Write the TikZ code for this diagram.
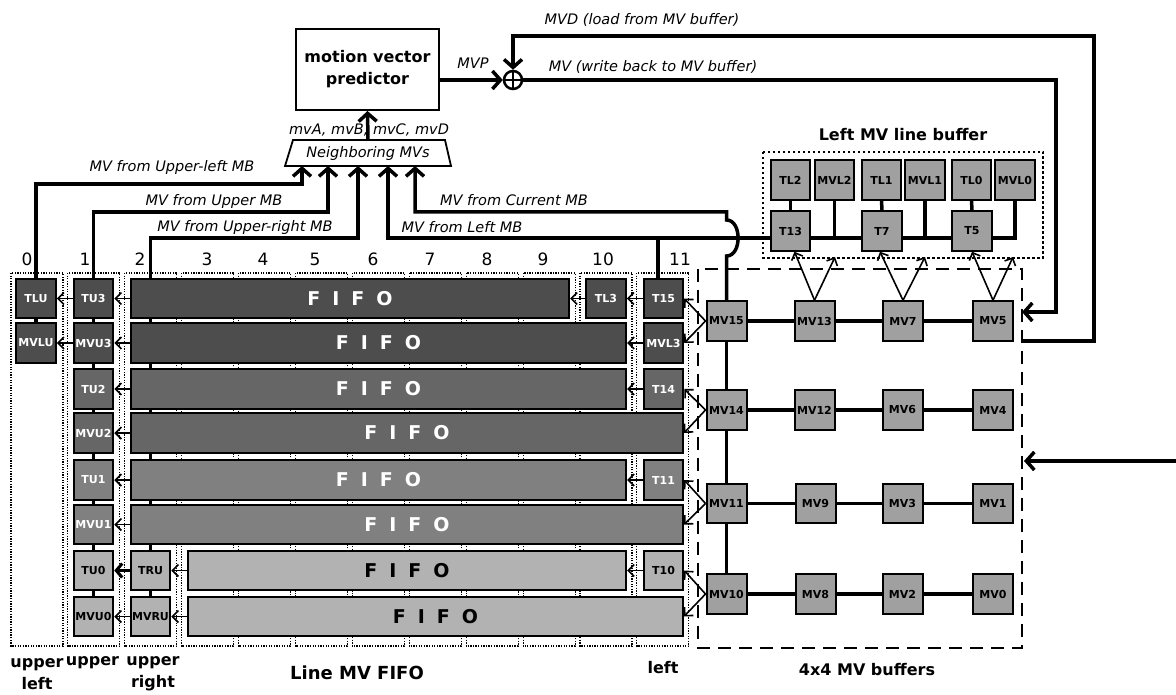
\documentclass[tikz,border=0pt]{standalone}
\usepackage{fontspec}
\setmainfont{DejaVu Sans}
\usetikzlibrary{arrows.meta}
\pgfdeclarelayer{bg}
\pgfsetlayers{bg,main}
\definecolor{gA}{HTML}{4D4D4D}
\definecolor{gB}{HTML}{666666}
\definecolor{gC}{HTML}{808080}
\definecolor{gD}{HTML}{B2B2B2}
\definecolor{gM}{HTML}{A0A0A0}
\newcommand{\fifotxt}{F\hspace{12pt}I\hspace{12pt}F\hspace{12pt}O}
\begin{document}
\begin{tikzpicture}[x=1pt,y=-1pt,
  cell/.style={draw=black, line width=2pt, minimum width=39.5pt, minimum height=39.5pt, inner sep=0pt, font=\fontsize{11}{12}\selectfont\bfseries},
  dA/.style={cell, fill=gA, text=white},
  dB/.style={cell, fill=gB, text=white},
  dC/.style={cell, fill=gC, text=white},
  dD/.style={cell, fill=gD, text=black},
  dM/.style={cell, fill=gM, text=black, minimum width=40pt},
  fifo/.style={draw=black, line width=2pt, minimum height=39.5pt, inner sep=0pt, font=\fontsize{19}{20}\selectfont\bfseries},
  bus/.style={line width=3.5pt},
  arr/.style={line width=3.5pt, -{Straight Barb[length=8pt,width=18pt]}},
  tarr/.style={line width=1.6pt, -{Straight Barb[length=6pt,width=12pt]}},
  lbl/.style={font=\fontsize{14.5}{16}\selectfont\itshape, inner sep=0pt},
  ttl/.style={font=\fontsize{16}{22}\selectfont\bfseries, inner sep=0pt, align=center},
  colnum/.style={font=\fontsize{17}{18}\selectfont, inner sep=0pt},
  colbox/.style={draw=black, line width=1.1pt, dash pattern=on 1.3pt off 1.3pt}
]
\useasboundingbox (0,0) rectangle (1176,695);

% ---------- top: predictor ----------
\node[draw, line width=2pt, minimum width=143pt, minimum height=81pt, inner sep=0pt, font=\fontsize{16}{22}\selectfont\bfseries, align=center] (mvp) at (367.5,69.5) {motion vector\\predictor};
\draw[line width=1.8pt] (285,166) -- (293,140) -- (445,140) -- (451,166) -- cycle;
\node[lbl] (nmv) at (368,153.5) {Neighboring MVs};
\coordinate (nmvtop) at (368,140);
\node[circle, draw, line width=2.5pt, minimum size=18pt, inner sep=0pt] (adder) at (513,80) {};
\draw[line width=2.5pt] (adder.north) -- (adder.south) (adder.west) -- (adder.east);

% ---------- column boxes and numbers ----------
\begin{pgfonlayer}{bg}
\foreach \i in {0,...,11} \draw[colbox] ({11+56.9*\i},273) rectangle ++(52,373);
\end{pgfonlayer}
\foreach \x/\n in {27/0,85/1,140/2,207/3,263/4,315/5,373/6,430/7,487/8,543/9,603/10,680/11}
  \node[colnum] (cn\n) at (\x,259) {\n};

% ---------- FIFO bars ----------
\node[fifo, fill=gA, text=white, minimum width=438pt] (F1) at (350,298.5) {\fifotxt};
\node[fifo, fill=gA, text=white, minimum width=495pt] (F2) at (378.5,343) {\fifotxt};
\node[fifo, fill=gB, text=white, minimum width=495pt] (F3) at (378.5,389) {\fifotxt};
\node[fifo, fill=gB, text=white, minimum width=552pt] (F4) at (407,433) {\fifotxt};
\node[fifo, fill=gC, text=white, minimum width=495pt] (F5) at (378.5,480) {\fifotxt};
\node[fifo, fill=gC, text=white, minimum width=552pt] (F6) at (407,524.5) {\fifotxt};
\node[fifo, fill=gD, text=black, minimum width=438pt] (F7) at (407,570.5) {\fifotxt};
\node[fifo, fill=gD, text=black, minimum width=495pt] (F8) at (435.5,616.5) {\fifotxt};

% ---------- column nodes ----------
\node[dA] (TLU) at (36,298.5) {TLU};
\node[dA] (MVLU) at (36,343) {MVLU};
\node[dA] (TU3) at (93.5,298.5) {TU3};
\node[dA] (MVU3) at (93.5,343) {MVU3};
\node[dB] (TU2) at (93.5,389) {TU2};
\node[dB] (MVU2) at (93.5,433) {MVU2};
\node[dC] (TU1) at (93.5,480) {TU1};
\node[dC] (MVU1) at (93.5,524.5) {MVU1};
\node[dD] (TU0) at (93.5,570.5) {TU0};
\node[dD] (MVU0) at (93.5,616.5) {MVU0};
\node[dD] (TRU) at (150.5,570.5) {TRU};
\node[dD] (MVRU) at (150.5,616.5) {MVRU};
\node[dA] (TL3) at (606,298.5) {TL3};
\node[dA] (T15) at (663.5,298.5) {T15};
\node[dA] (MVL3) at (663.5,343) {MVL3};
\node[dB] (T14) at (663.5,389) {T14};
\node[dC] (T11) at (663.5,480) {T11};
\node[dD] (T10) at (663.5,570.5) {T10};

% ---------- 4x4 MV buffers ----------
\foreach \nm/\x/\y in {MV15/726.5/321, MV13/814.5/321, MV7/903/321, MV5/993/321,
                       MV14/726.5/410, MV12/814.5/410, MV6/902.5/410, MV4/993/410,
                       MV11/726.5/503.5, MV9/815.5/503.5, MV3/902.5/503.5, MV1/993/503.5,
                       MV10/726.5/594, MV8/815.5/594, MV2/902.5/594, MV0/993/594}
  \node[dM] (\nm) at (\x,\y) {\nm};
\draw[line width=2pt, dash pattern=on 13pt off 8pt] (698,269) rectangle (1022,648);
\node[ttl] (t4x4) at (867,670) {4x4 MV buffers};

% ---------- Left MV line buffer ----------
\foreach \nm/\x in {TL2/790.5, MVL2/834.5, TL1/881.5, MVL1/925, TL0/971.5, MVL0/1015}
  \node[dM, minimum width=39.5pt] (\nm) at (\x,180) {\nm};
\foreach \nm/\x in {T13/790.5, T7/882, T5/972}
  \node[dM, minimum width=39.5pt] (\nm) at (\x,231) {\nm};
\draw[line width=2pt, dash pattern=on 2.5pt off 2.5pt] (763,152) rectangle (1043,258);
\node[ttl] (tlb) at (903,135) {Left MV line buffer};

% ---------- background buses ----------
\begin{pgfonlayer}{bg}
\draw[arr] (MVLU.north) |- (302,184) -- (302,166);
\draw[arr] (MVU0.north) |- (328,212) -- (328,166);
\draw[arr] (MVRU.north) |- (358,238) -- (358,166);
\draw[arr] (MVL0.south) |- (388,238) -- (388,166);
\draw[bus] (MVL1.south) -- ++(0,37);
\draw[bus] (MVL2.south) -- ++(0,37);
\draw[bus] (TL2.south) -- (T13.north);
\draw[bus] (TL1.south) -- (T7.north);
\draw[bus] (TL0.south) -- (T5.north);
\draw[bus] (658,238) -- (658,278);
\draw[arr] (MV15.north) -- (726.5,256) .. controls (742,256) and (742,220) .. (726.5,220) -- (726.5,212) -| (415,166);
\draw[bus] (MV15) -- (MV10);
\draw[bus] (MV15) -- (MV5);
\draw[bus] (MV14) -- (MV4);
\draw[bus] (MV11) -- (MV1);
\draw[bus] (MV10) -- (MV0);
\end{pgfonlayer}

% ---------- top connectors ----------
\draw[arr] (nmvtop) -- (mvp.south);
\draw[arr] (mvp.east |- adder.west) -- (adder.west);
\coordinate (mvdout) at (1022,341);
\coordinate (mvin) at (1022,312);
\draw[arr] (mvdout) -- (1094,341) -- (1094,36) -| (adder.north);
\draw[arr] (adder.east) -- (1056,80) |- (mvin);
\coordinate (rin) at (1176,461);
\draw[arr] (rin) -- (1024,461);

% ---------- FIFO/cell arrows ----------
\draw[tarr] (F1.west) -- (TU3.east);
\draw[tarr] (TU3.west) -- (TLU.east);
\draw[tarr] (F2.west) -- (MVU3.east);
\draw[tarr] (MVU3.west) -- (MVLU.east);
\draw[tarr] (F3.west) -- (TU2.east);
\draw[tarr] (F4.west) -- (MVU2.east);
\draw[tarr] (F5.west) -- (TU1.east);
\draw[tarr] (F6.west) -- (MVU1.east);
\draw[line width=3pt, -{Straight Barb[length=6pt,width=14pt]}] (TRU.west) -- (TU0.east);
\draw[tarr] (MVRU.west) -- (MVU0.east);
\draw[tarr] (F7.west) -- (TRU.east);
\draw[tarr] (F8.west) -- (MVRU.east);
\draw[tarr] (TL3.west) -- (F1.east);
\draw[tarr] (T15.west) -- (TL3.east);
\draw[tarr] (MVL3.west) -- (F2.east);
\draw[tarr] (T14.west) -- (F3.east);
\draw[tarr] (T11.west) -- (F5.east);
\draw[tarr] (T10.west) -- (F7.east);

\draw[tarr] (MV15.west) -- (T15.east);
\draw[tarr] (MV15.west) -- (MVL3.east);
\draw[tarr] (MV14.west) -- (T14.east);
\draw[tarr] (MV14.west) -- (F4.east);
\draw[tarr] (MV11.west) -- (T11.east);
\draw[tarr] (MV11.west) -- (F6.east);
\draw[tarr] (MV10.west) -- (T10.east);
\draw[tarr] (MV10.west) -- (F8.east);

\draw[tarr] (MV13.north) -- ([xshift=4pt]T13.south);
\draw[tarr] (MV13.north) -- (835,257);
\draw[tarr] (MV7.north) -- ([xshift=-2pt]T7.south);
\draw[tarr] (MV7.north) -- (925,257);
\draw[tarr] (MV5.north) -- (T5.south);
\draw[tarr] (MV5.north) -- (1013,257);

% ---------- labels ----------
\node[lbl] (l1) at (172,168) {MV from Upper-left MB};
\node[lbl] (l2) at (214,202) {MV from Upper MB};
\node[lbl] (l3) at (245,228) {MV from Upper-right MB};
\node[lbl] (l4) at (514,200) {MV from Current MB};
\node[lbl] (l5) at (462,227) {MV from Left MB};
\node[lbl] (l6) at (642,20) {MVD (load from MV buffer)};
\node[lbl] (l7) at (653,67) {MV (write back to MV buffer)};
\node[lbl] (l8) at (473,63) {MVP};
\node[lbl] (l9) at (369,130) {mvA, mvB, mvC, mvD};

\node[ttl] (b1) at (37,674) {upper\\left};
\node[ttl] (b2) at (92.5,663) {upper};
\node[ttl] (b3) at (153,674) {upper\\right};
\node[ttl, font=\fontsize{18}{20}\selectfont\bfseries] (b4) at (357,673) {Line MV FIFO};
\node[ttl] (b5) at (663,668) {left};
\end{tikzpicture}
\end{document}
